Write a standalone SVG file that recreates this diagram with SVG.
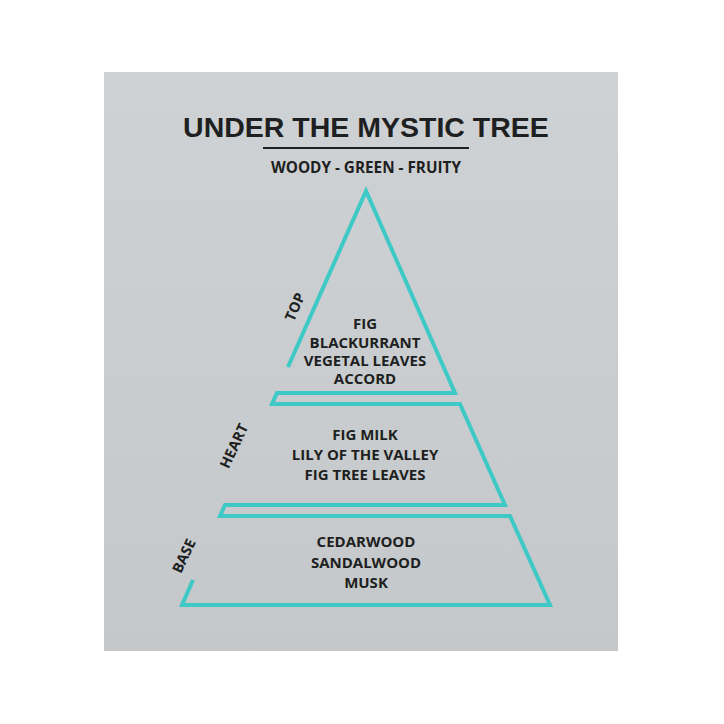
<svg xmlns="http://www.w3.org/2000/svg" width="724" height="724" viewBox="0 0 724 724">
<defs>
<linearGradient id="bg" x1="0" y1="0" x2="0" y2="1">
<stop offset="0" stop-color="#cfd2d4"/>
<stop offset="1" stop-color="#c4c8ca"/>
</linearGradient>
<style>
.title{font-family:"Liberation Sans",Arial,sans-serif;font-weight:bold;font-size:28.5px;fill:#1e1f21;text-anchor:middle}
.sub{font-family:"Open Sans","Liberation Sans",sans-serif;font-weight:bold;font-size:15.3px;fill:#1e1f21;text-anchor:middle}
.note{font-family:"Open Sans","Liberation Sans",sans-serif;font-weight:bold;font-size:15px;fill:#1e1f21;text-anchor:middle}
.tier{font-family:"Open Sans","Liberation Sans",sans-serif;font-weight:bold;font-size:14.5px;fill:#1e1f21;text-anchor:middle}
.line{fill:none;stroke:#3ec8c6;stroke-width:4;stroke-linejoin:miter}
</style>
</defs>
<rect x="0" y="0" width="724" height="724" fill="#ffffff"/>
<rect x="104" y="72" width="514" height="579" fill="url(#bg)"/>
<g id="header">
<text class="title" x="366" y="137">UNDER THE MYSTIC TREE</text>
<rect x="263" y="147" width="206" height="2" fill="#1e1f21"/>
<text class="sub" x="366" y="173">WOODY - GREEN - FRUITY</text>
</g>
<g id="connectors">
<polyline class="line" points="288,367 366,191 455,393 277,393 272,404 460,404 505,505 225,505 220,516 510,516 550,605 182,605 193,580"/>
</g>
<g id="top">
<text class="tier" transform="translate(295,307) rotate(-66)" dy="5">TOP</text>
<text class="note" x="365" y="329">FIG</text>
<text class="note" x="365" y="348">BLACKURRANT</text>
<text class="note" x="365" y="366">VEGETAL LEAVES</text>
<text class="note" x="365" y="384">ACCORD</text>
</g>
<g id="heart">
<text class="tier" transform="translate(234,446) rotate(-65)" dy="5">HEART</text>
<text class="note" x="365" y="440">FIG MILK</text>
<text class="note" x="365" y="460">LILY OF THE VALLEY</text>
<text class="note" x="365" y="480">FIG TREE LEAVES</text>
</g>
<g id="base">
<text class="tier" transform="translate(184,556) rotate(-65)" dy="5">BASE</text>
<text class="note" x="366" y="547">CEDARWOOD</text>
<text class="note" x="366" y="568">SANDALWOOD</text>
<text class="note" x="366" y="588">MUSK</text>
</g>
</svg>
